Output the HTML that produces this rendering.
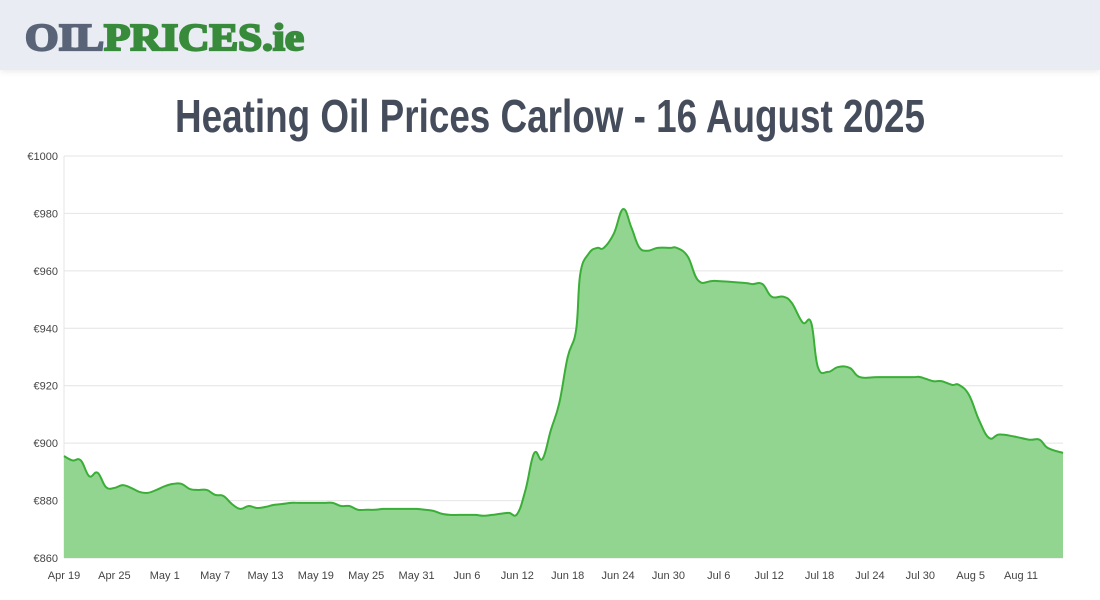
<!DOCTYPE html>
<html><head><meta charset="utf-8"><style>
body{margin:0;width:1100px;height:600px;background:#fff;overflow:hidden;font-family:"Liberation Sans",sans-serif}
#hdr{position:absolute;left:0;top:0;width:1100px;height:70px;background:#e9ecf3;box-shadow:0 2px 6px rgba(0,0,0,0.08)}
svg{position:absolute;left:0;top:0}
</style></head><body>
<div id="hdr"></div>
<svg width="1100" height="600" id="chart">
<text x="25" y="50" textLength="279" lengthAdjust="spacingAndGlyphs" font-family="Liberation Serif,serif" font-weight="bold" font-size="38" stroke-width="2.2"><tspan fill="#5a6478" stroke="#5a6478">OIL</tspan><tspan fill="#378b3a" stroke="#378b3a">PRICES.ie</tspan></text>
<text x="175" y="132" textLength="750" lengthAdjust="spacingAndGlyphs" font-family="Liberation Sans Narrow,Liberation Sans,sans-serif" font-weight="bold" font-size="46" fill="#454d5d">Heating Oil Prices Carlow - 16 August 2025</text>
<g id="grid"></g><g id="area"></g><g id="axes"></g>
</svg>
<script>
const yTicks=[860,880,900,920,940,960,980,1000];
const xTickLabels=["Apr 19","Apr 25","May 1","May 7","May 13","May 19","May 25","May 31","Jun 6","Jun 12","Jun 18","Jun 24","Jun 30","Jul 6","Jul 12","Jul 18","Jul 24","Jul 30","Aug 5","Aug 11"];
const xTickDays=[0,6,12,18,24,30,36,42,48,54,60,66,72,78,84,90,96,102,108,114];
const days=[0,1,2,3,4,5,6,7,8,9,10,11,12,13,14,15,16,17,18,19,20,21,22,23,24,25,26,27,28,29,30,31,32,33,34,35,36,37,38,39,40,41,42,43,44,45,46,47,48,49,50,51,52,53,54,55,56,57,58,59,60,61,61.5,62.5,63.5,64.3,65.5,66.6,67.6,68.5,69.5,70.7,72.2,73,74.3,75.6,77.5,81,82,83.2,84.3,85.7,86.7,88,89,89.8,91,92.2,93.6,94.8,97,101,102,103.5,104.5,105.8,106.6,107.8,109,110.2,111.4,113.2,115,116.2,117.2,119];
const prices=[895.5,894,894,888.5,889.7,884.7,884.4,885.4,884.4,883,882.7,883.7,885,885.8,885.8,884,883.7,883.7,882,881.6,878.8,877.1,878.1,877.4,877.8,878.5,878.8,879.2,879.2,879.2,879.2,879.2,879.2,878.1,878.1,876.8,876.8,876.8,877.1,877.1,877.1,877.1,877.1,876.8,876.4,875.4,875,875,875,875,874.7,875,875.4,875.7,875.4,884,896.5,894.5,904.6,914,930,939.4,959,966,968,968,973,981.5,975,968.3,967,968,968,968,965,956.5,956.5,955.8,955.4,955.4,951,951,948.8,942,942,926.5,924.8,926.5,926.2,923,923,923,923,921.6,921.6,920.3,920.3,916.8,908,901.8,903,902.3,901.2,901.2,898.3,896.6];
const X0=64,X1=1063,Y0=558,Y1=156;
const xs=d=>X0+(X1-X0)*d/119;
const ys=v=>Y0-(Y0-Y1)*(v-860)/140;
const NS="http://www.w3.org/2000/svg";
function mk(t,a,p){const e=document.createElementNS(NS,t);for(const k in a)e.setAttribute(k,a[k]);p.appendChild(e);return e;}
const grid=document.getElementById('grid'),axes=document.getElementById('axes'),area=document.getElementById('area');
yTicks.forEach(v=>{
 const l=mk('line',{x1:X0,x2:X1,y1:ys(v),y2:ys(v),stroke:'#e4e4e4','stroke-width':1},grid);
 
 
 const t=mk('text',{x:58,y:ys(v)+4,'text-anchor':'end','font-size':11,fill:'#444'},axes);
 t.textContent='€'+v;
 
 
});
const ax=mk('line',{x1:X0,x2:X0,y1:Y1,y2:Y0,stroke:'#e4e4e4'},grid);


xTickLabels.forEach((s,i)=>{
 const t=mk('text',{x:xs(xTickDays[i]),y:579,'text-anchor':'middle','font-size':11,fill:'#444'},axes);
 t.textContent=s;
 
 
});
const pts=days.map((d,i)=>[xs(d),ys(prices[i])]);
let dpath='M'+pts[0][0]+','+pts[0][1];
const tn=0.4;
for(let i=0;i<pts.length-1;i++){
 const p0=pts[Math.max(i-1,0)],p1=pts[i],p2=pts[i+1],p3=pts[Math.min(i+2,pts.length-1)];
 const c1=[p1[0]+(p2[0]-p0[0])*tn/2,p1[1]+(p2[1]-p0[1])*tn/2];
 const c2=[p2[0]-(p3[0]-p1[0])*tn/2,p2[1]-(p3[1]-p1[1])*tn/2];
 dpath+=` C${c1[0]},${c1[1]} ${c2[0]},${c2[1]} ${p2[0]},${p2[1]}`;
}
const fill=mk('path',{d:dpath+` L${pts[pts.length-1][0]},${Y0} L${pts[0][0]},${Y0} Z`,fill:'#92d591',stroke:'none'},area);


const line=mk('path',{d:dpath,fill:'none',stroke:'#3aae37','stroke-width':2},area);


</script>
</body></html>
